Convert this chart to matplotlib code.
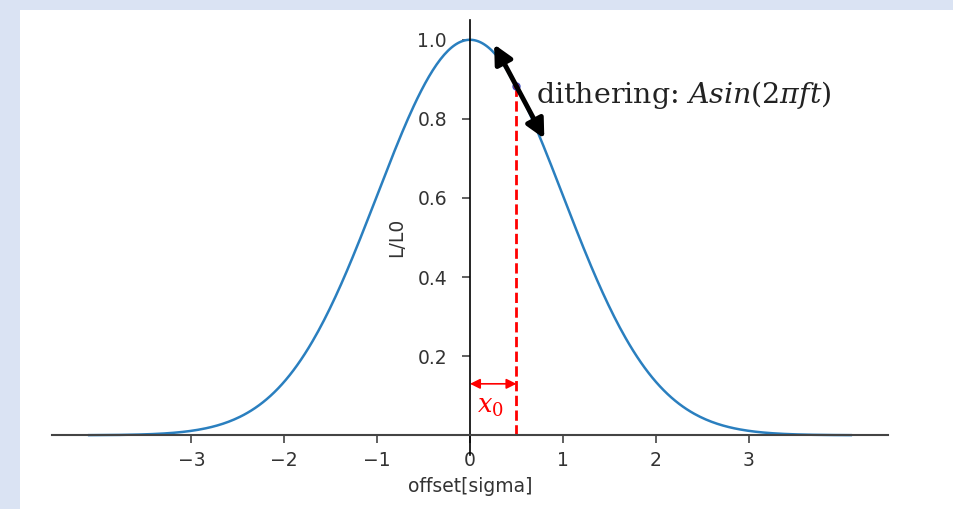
import numpy as np
import matplotlib
matplotlib.use("Agg")
import matplotlib.pyplot as plt
from matplotlib.patches import Rectangle

# data
x = np.linspace(-4.1, 4.1, 400)
y = np.exp(-x ** 2 / 2.0)  # normalised gaussian L/L0
x0 = 0.5
y0 = np.exp(-x0 ** 2 / 2.0)
xticks = [-3, -2, -1, 0, 1, 2, 3]
yticks = [0.2, 0.4, 0.6, 0.8, 1.0]

plt.rcParams["mathtext.fontset"] = "dejavuserif"

fig = plt.figure(figsize=(9.54, 5.09), dpi=100, facecolor="#dae3f3")
# white slide area
fig.patches.append(Rectangle((20 / 954, 0), 1, 1 - 10 / 509, transform=fig.transFigure,
                             facecolor="white", edgecolor="none", zorder=-10))

ax = fig.add_axes([52 / 954, 1 - 455 / 509, (888 - 52) / 954, (455 - 20) / 509])
ax.set_facecolor("none")
ax.plot(x, y, color="#2a7fbf", lw=1.8)

ax.spines["left"].set_position(("data", 0))
ax.spines["bottom"].set_position(("data", 0))
ax.spines["top"].set_visible(False)
ax.spines["right"].set_visible(False)
ax.spines["left"].set_linewidth(1.2)
ax.spines["bottom"].set_linewidth(1.5)
ax.spines["bottom"].set_color("#444444")
ax.set_xticks(xticks)
ax.set_yticks(yticks)
ax.tick_params(labelsize=13.5, colors="#444444", labelcolor="#333333",
               length=5.5, width=1.2, pad=6)
ax.tick_params(axis="y", pad=11)
ax.set_xlabel("offset[sigma]", fontsize=13.5, color="#333333", labelpad=5)
ax.set_ylabel("L/L0", fontsize=13.5, color="#333333", labelpad=8)

# x0 marker
ax.plot([x0, x0], [0, y0], color="red", ls="--", lw=2)
ax.plot(x0, y0, "o", color="red", mec="#4050c0", ms=5)
ax.annotate("", xy=(0, 0.13), xytext=(x0, 0.13),
            arrowprops=dict(arrowstyle="<|-|>", color="red", lw=1.2, mutation_scale=15,
                            shrinkA=0, shrinkB=0))
ax.text(0.22, 0.075, "$x_0$", color="red", fontsize=18.5, ha="center", va="center")

# dithering arrow along tangent
slope = -x0 * y0
ax.annotate("", xy=(0.26, y0 + slope * (0.26 - x0)), xytext=(0.8, y0 + slope * (0.8 - x0)),
            arrowprops=dict(arrowstyle="<|-|>", color="black", lw=3.5, mutation_scale=28,
                            shrinkA=0, shrinkB=0))
ax.text(0.71, 0.86, r"dithering: $Asin(2\pi ft)$", family="DejaVu Serif",
        fontsize=20.5, color="#222222", va="center")

ax.set_xlim(-4.5, 4.5)
ax.set_ylim(-0.05, 1.05)

fig.savefig("out.png", dpi=100, facecolor=fig.get_facecolor())
